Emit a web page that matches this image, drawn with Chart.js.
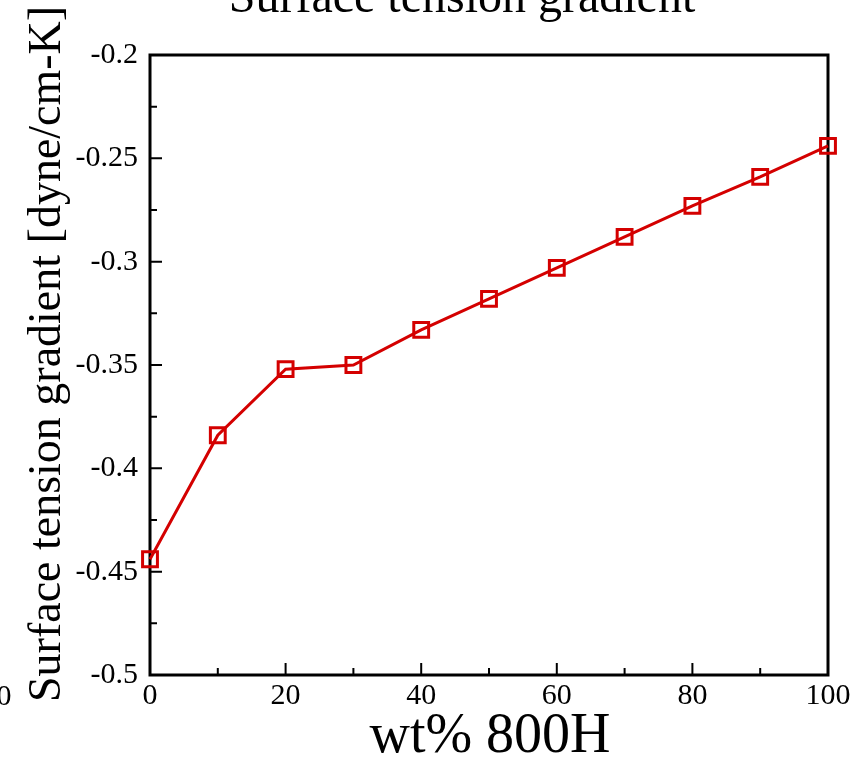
<!DOCTYPE html>
<html>
<head>
<meta charset="utf-8">
<script src="https://cdn.jsdelivr.net/npm/chart.js@4.4.1/dist/chart.umd.min.js"></script>
<style>
  html, body { margin: 0; padding: 0; background: #fff; }
  #wrap { width: 861px; height: 757px; }
</style>
</head>
<body>
<div id="wrap"><canvas id="c"></canvas></div>
<script>
// data
const wtPercent = [0, 10, 20, 30, 40, 50, 60, 70, 80, 90, 100];
const gradient = [-0.444, -0.384, -0.352, -0.350, -0.333, -0.318, -0.303, -0.288, -0.273, -0.259, -0.244];
const xTicks = [0, 20, 40, 60, 80, 100];
const yTicks = [-0.5, -0.45, -0.4, -0.35, -0.3, -0.25, -0.2];

const serif = '"Liberation Serif", "Times New Roman", serif';
const red = '#d40000';

// box, inward ticks and the big texts
const framePlugin = {
  id: 'frame',
  beforeDatasetsDraw(chart) {
    const ctx = chart.ctx;
    const a = chart.chartArea;
    const xs = chart.scales.x, ys = chart.scales.y;
    ctx.save();
    ctx.strokeStyle = '#000';
    ctx.lineWidth = 3;
    ctx.strokeRect(a.left, a.top, a.right - a.left, a.bottom - a.top);

    ctx.lineWidth = 2;
    ctx.beginPath();
    for (let v = 0; v <= 100; v += 10) {
      const px = xs.getPixelForValue(v);
      const len = (v % 20 === 0) ? 12 : 7;
      ctx.moveTo(px, a.bottom);
      ctx.lineTo(px, a.bottom - len);
    }
    for (let i = 0; i <= 12; i++) {
      const v = -0.5 + i * 0.025;
      const py = ys.getPixelForValue(v);
      const len = (i % 2 === 0) ? 12 : 7;
      ctx.moveTo(a.left, py);
      ctx.lineTo(a.left + len, py);
    }
    ctx.stroke();
    ctx.restore();
  },
  afterDraw(chart) {
    const ctx = chart.ctx;
    ctx.save();
    ctx.fillStyle = '#000';
    ctx.textAlign = 'center';
    ctx.textBaseline = 'alphabetic';
    ctx.font = '48px ' + serif;
    ctx.fillText('Surface tension gradient', 462, 12);
    ctx.font = '56px ' + serif;
    ctx.fillText('wt% 800H', 490, 752);

    ctx.save();
    ctx.font = '46px ' + serif;
    ctx.translate(60, 702);
    ctx.rotate(-Math.PI / 2);
    ctx.textAlign = 'left';
    ctx.fillText('Surface tension gradient [dyne/cm-K]', 0, 0);
    ctx.restore();

    ctx.font = '30px ' + serif;
    ctx.textAlign = 'center';
    ctx.fillText('0', 4, 705);
    ctx.restore();
  }
};

new Chart(document.getElementById('c'), {
  type: 'line',
  data: {
    datasets: [{
      data: wtPercent.map((x, i) => ({ x: x, y: gradient[i] })),
      borderColor: red,
      borderWidth: 3,
      pointStyle: 'rect',
      pointRadius: 10.5,
      pointBorderWidth: 3,
      pointBorderColor: red,
      pointBackgroundColor: 'rgba(0,0,0,0)',
      tension: 0,
      clip: false
    }]
  },
  options: {
    responsive: true,
    maintainAspectRatio: false,
    animation: false,
    layout: { padding: { left: 0, top: 55, right: 33, bottom: 0 } },
    plugins: { legend: { display: false }, tooltip: { enabled: false } },
    scales: {
      x: {
        type: 'linear',
        min: 0, max: 100,
        afterFit(s) { s.height = 82; },
        afterBuildTicks(s) { s.ticks = xTicks.map(v => ({ value: v })); },
        grid: { display: false, drawTicks: false },
        border: { display: false },
        ticks: { color: '#000', font: { family: serif, size: 30 }, padding: 3, maxRotation: 0 }
      },
      y: {
        type: 'linear',
        min: -0.5, max: -0.2,
        afterFit(s) { s.width = 150; },
        afterBuildTicks(s) { s.ticks = yTicks.map(v => ({ value: v })); },
        grid: { display: false, drawTicks: false },
        border: { display: false },
        ticks: {
          color: '#000', font: { family: serif, size: 30 }, padding: 12,
          callback: v => String(Math.round(v * 1000) / 1000)
        }
      }
    }
  },
  plugins: [framePlugin]
});
</script>
</body>
</html>
